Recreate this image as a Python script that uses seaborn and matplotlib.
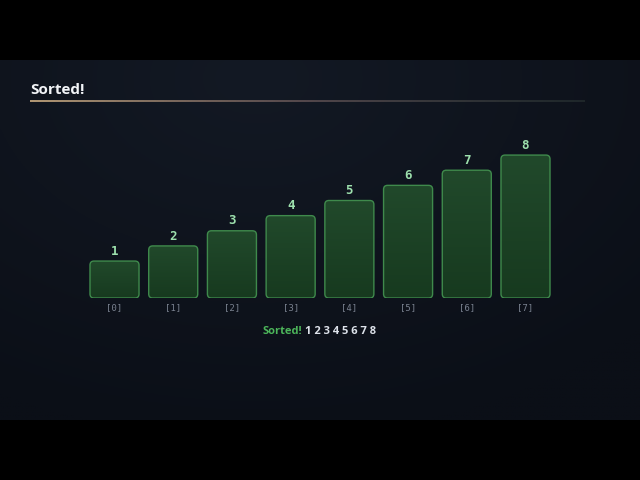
import numpy as np
import pandas as pd
import matplotlib
matplotlib.use("Agg")
import matplotlib.pyplot as plt
from matplotlib.patches import FancyBboxPatch
from matplotlib.collections import LineCollection
from matplotlib.colors import LinearSegmentedColormap
import seaborn as sns

# ---- data ----
title = "Sorted!"
values = [1, 2, 3, 4, 5, 6, 7, 8]
index_labels = ["[0]", "[1]", "[2]", "[3]", "[4]", "[5]", "[6]", "[7]"]
status_word = "Sorted!"
status_values = "1 2 3 4 5 6 7 8"

BASE = 1.44  # visual minimum bar height, in value units

sns.set_theme(style="dark")
plt.rcParams['font.family'] = ['Open Sans', 'DejaVu Sans']

W, H = 640, 480
fig = plt.figure(figsize=(6.4, 4.8), dpi=100, facecolor="black")

# background panel
bg = fig.add_axes([0, 60 / H, 1, 360 / H])
bg.set_axis_off()
yy, xx = np.mgrid[0:1:200j, 0:1:300j]
d = np.sqrt(((xx - 0.4) * 1.2) ** 2 + ((yy - 0.05) * 1.0) ** 2)
g = np.clip(1 - d, 0, 1)
base_c = np.array([0x0b, 0x0f, 0x17]) / 255
top_c = np.array([0x13, 0x19, 0x24]) / 255
img = base_c[None, None, :] + (top_c - base_c)[None, None, :] * g[..., None]
bg.imshow(img, extent=[0, 1, 0, 1], aspect="auto", origin="upper")
bg.set_xlim(0, 1); bg.set_ylim(0, 1)

# title and underline
fig.text(30 / W, 1 - 90 / H, title, color="#f2f4f7", fontsize=11, fontweight="bold",
         va="center", ha="left", family=['Open Sans', 'DejaVu Sans'])
lx = np.linspace(30, 585, 200) / W
pts = np.array([lx, np.full_like(lx, 1 - 100.5 / H)]).T.reshape(-1, 1, 2)
segs = np.concatenate([pts[:-1], pts[1:]], axis=1)
t = np.linspace(0, 1, len(segs))
cols = np.zeros((len(segs), 4))
c1 = np.array([0xd0, 0xb0, 0x84]) / 255
c2 = np.array([0x80, 0x68, 0x68]) / 255
c3 = np.array([0x40, 0x50, 0x48]) / 255
for i, tv in enumerate(t):
    if tv < 0.5:
        c = c1 + (c2 - c1) * (tv / 0.5)
    else:
        c = c2 + (c3 - c2) * ((tv - 0.5) / 0.5)
    cols[i, :3] = c
    cols[i, 3] = 1.0 - 0.6 * tv
lc = LineCollection(segs, colors=cols, linewidths=1.2, transform=fig.transFigure)
fig.add_artist(lc)

# main bar axes
ax_l, ax_r = 85.15, 554.85
ax_b = 298
ax_t = 120
ppu = 15.14
ymax = (ax_b - ax_t) / ppu
ax = fig.add_axes([ax_l / W, 1 - ax_b / H, (ax_r - ax_l) / W, (ax_b - ax_t) / H])
ax.patch.set_alpha(0)

df = pd.DataFrame({"idx": index_labels, "value": values})
df["shown"] = df["value"] + BASE
sns.barplot(data=df, x="idx", y="shown", ax=ax, width=0.835, color="#1d4427",
            saturation=1, edgecolor="none")
ax.set_xlim(-0.5, len(values) - 0.5)
ax.set_ylim(0, ymax)
for s in ax.spines.values():
    s.set_visible(False)
ax.set_xlabel(""); ax.set_ylabel("")
ax.set_yticks([])
ax.tick_params(axis="x", length=0, pad=4, labelsize=6.5, labelcolor="#7a8290")
for lab in ax.get_xticklabels():
    lab.set_family("DejaVu Sans Mono")
ax.grid(False)

xpu = (ax_r - ax_l) / len(values)  # px per x unit
mut_aspect = (1 / ppu) / (1 / xpu)
grad_cmap = LinearSegmentedColormap.from_list("g", ["#173a1f", "#21492b"])
patches = list(ax.patches)
for p, v in zip(patches, values):
    x0, y0 = p.get_x(), p.get_y()
    w, h = p.get_width(), p.get_height()
    p.set_visible(False)
    rad = 4 / xpu
    fb = FancyBboxPatch((x0 + rad, y0 + rad * mut_aspect), w - 2 * rad, h - 2 * rad * mut_aspect,
                        boxstyle=f"round,pad={rad},rounding_size={rad}",
                        mutation_aspect=mut_aspect,
                        facecolor="none", edgecolor="#3f8a4c", linewidth=1.0, zorder=3)
    ax.add_patch(fb)
    grad = np.linspace(0, 1, 100).reshape(-1, 1)
    im = ax.imshow(grad, extent=[x0, x0 + w, y0, y0 + h], origin="lower",
                   cmap=grad_cmap, aspect="auto", zorder=2)
    im.set_clip_path(fb)
    ax.text(x0 + w / 2, y0 + h + 0.22, str(v), ha="center", va="bottom",
            color="#9de0ad", fontsize=9, fontweight="bold", family="DejaVu Sans Mono",
            zorder=4)
ax.set_xlim(-0.5, len(values) - 0.5)
ax.set_ylim(0, ymax)

# status line
fig.text(302 / W, 1 - 331 / H, status_word, color="#4cb55a", fontsize=8, fontweight="bold",
         ha="right", va="center", family=['Open Sans', 'DejaVu Sans'])
fig.text(305 / W, 1 - 331 / H, status_values, color="#dde2ea", fontsize=8, fontweight="bold",
         ha="left", va="center", family=['Open Sans', 'DejaVu Sans'])

fig.savefig("out.png", dpi=100, facecolor="black")
